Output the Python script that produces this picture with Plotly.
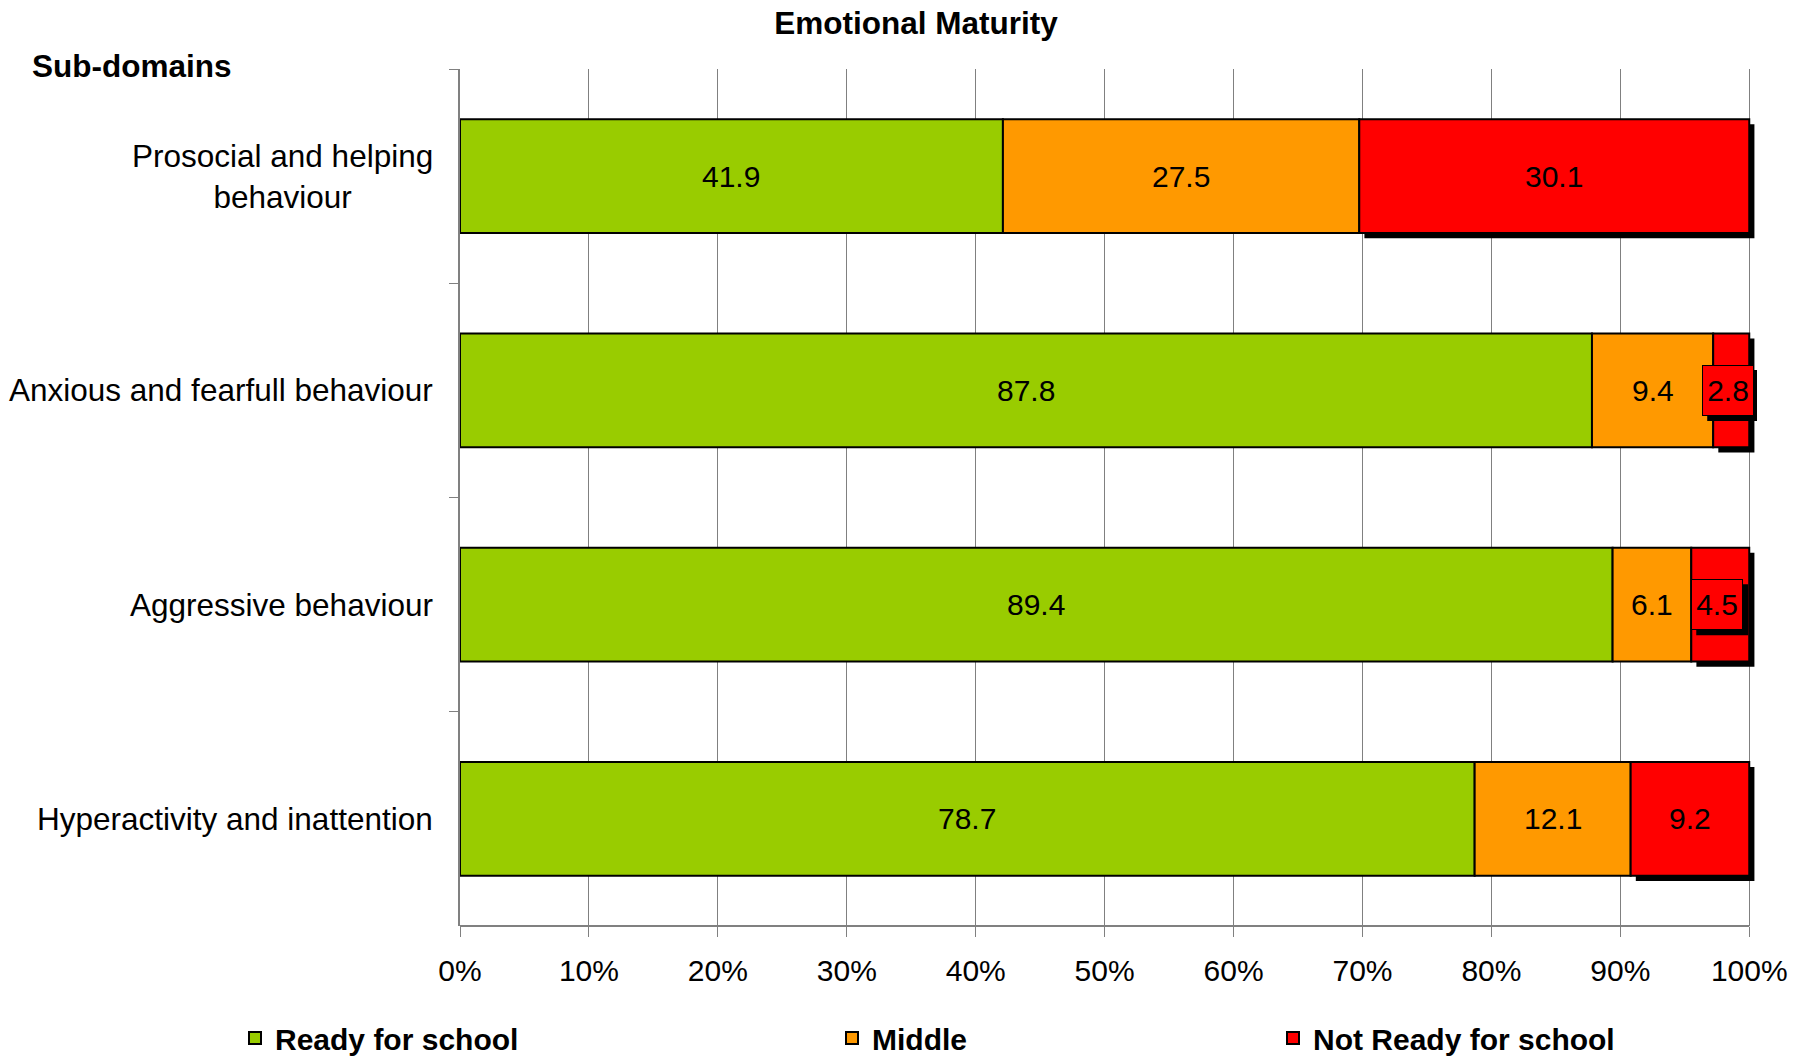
import plotly.graph_objects as go

# --- data -------------------------------------------------------------
categories = [
    "Prosocial and helping behaviour",
    "Anxious and fearfull behaviour",
    "Aggressive behaviour",
    "Hyperactivity and inattention",
]
category_labels = [
    "Prosocial and helping<br>behaviour",
    "Anxious and fearfull behaviour",
    "Aggressive behaviour",
    "Hyperactivity and inattention",
]
ready = [41.9, 87.8, 89.4, 78.7]
middle = [27.5, 9.4, 6.1, 12.1]
not_ready = [30.1, 2.8, 4.5, 9.2]

series_names = ["Ready for school", "Middle", "Not Ready for school"]
series_colors = ["#99CC00", "#FF9900", "#FF0000"]
x_tick_values = [0, 10, 20, 30, 40, 50, 60, 70, 80, 90, 100]
x_tick_labels = [f"{v}%" for v in x_tick_values]

# --- styling ----------------------------------------------------------
FONT = "Liberation Sans, Arial, sans-serif"
FS = 30
FS_BIG = 31.5
BAR_W = 0.532
SHADOW_DX = 0.4      # shadow offset along x (percent units)
SHADOW_DY = 0.024    # shadow offset along the category axis
SMALL_LABEL = 5.0    # segments narrower than this get a boxed label
BOX_W, BOX_H = 52, 51

# page geometry (px)
W, H = 1815, 1057
M_L, M_R, M_T, M_B = 460, 58, 69, 131
PLOT_W = W - M_L - M_R
PLOT_H = H - M_T - M_B

# Normalise each row to 100 % and compute segment starts
series = [ready, middle, not_ready]
totals = [sum(vals) for vals in zip(*series)]
pct = [[v / t * 100 for v, t in zip(s, totals)] for s in series]
starts = []
run = [0.0] * len(categories)
for p in pct:
    starts.append(list(run))
    run = [r + v for r, v in zip(run, p)]

fig = go.Figure()

legend_ids = ["legend", "legend2", "legend3"]
for i, (name, color) in enumerate(zip(series_names, series_colors)):
    if i == 2:
        # drop shadow under the red segments
        fig.add_trace(go.Bar(
            y=categories, x=pct[i],
            base=[s + SHADOW_DX for s in starts[i]],
            orientation="h", width=BAR_W, offset=-BAR_W / 2 + SHADOW_DY,
            marker=dict(color="black", line=dict(width=0)),
            showlegend=False, hoverinfo="skip",
        ))
    fig.add_trace(go.Bar(
        y=categories, x=pct[i], base=starts[i],
        orientation="h", width=BAR_W, offset=-BAR_W / 2,
        name=name, legend=legend_ids[i],
        marker=dict(color=color, line=dict(color="black", width=2)),
    ))

# value labels
annotations = []
shapes = []
for i in range(3):
    for j, cat in enumerate(categories):
        val = series[i][j]
        xc = starts[i][j] + pct[i][j] / 2
        if val < SMALL_LABEL:
            # shadow behind the boxed label
            shapes.append(dict(
                type="rect", xref="x", yref="y",
                xsizemode="pixel", ysizemode="pixel",
                xanchor=xc, yanchor=j,
                x0=-BOX_W / 2 + 2, x1=BOX_W / 2 + 2,
                y0=-BOX_H / 2 - 5, y1=BOX_H / 2 - 5,
                fillcolor="black", line=dict(width=0), layer="above",
            ))
            annotations.append(dict(
                x=xc, y=cat, xref="x", yref="y", text=f"{val:.1f}",
                showarrow=False, width=BOX_W - 10, height=BOX_H - 10,
                xshift=-3,
                font=dict(family=FONT, size=FS, color="black"),
                bgcolor=series_colors[i], bordercolor="black", borderwidth=1, borderpad=4,
            ))
        else:
            annotations.append(dict(
                x=xc, y=cat, xref="x", yref="y", text=f"{val:.1f}",
                showarrow=False, font=dict(family=FONT, size=FS, color="black"),
            ))

# category labels
for cat, lab in zip(categories, category_labels):
    annotations.append(dict(
        x=0, y=cat, xref="paper", yref="y", text=lab, showarrow=False,
        xanchor="right", align="center", xshift=-25,
        font=dict(family=FONT, size=FS_BIG, color="black"),
    ))

annotations.append(dict(
    x=(30 - M_L) / PLOT_W, y=(H - M_B - 66) / PLOT_H, xref="paper", yref="paper",
    text="<b>Sub-domains</b>", showarrow=False, xanchor="left", yanchor="middle",
    font=dict(family=FONT, size=FS_BIG, color="black"),
))

# bottom axis line spanning 0-100 %
shapes.append(dict(
    type="line", xref="x", yref="paper", x0=0, x1=100, y0=0, y1=0,
    line=dict(color="#808080", width=2), layer="above",
))

fig.update_layout(
    width=W, height=H,
    margin=dict(l=M_L, r=M_R, t=M_T, b=M_B),
    paper_bgcolor="white", plot_bgcolor="white",
    barmode="overlay",
    font=dict(family=FONT, size=FS, color="black"),
    title=dict(
        text="<b>Emotional Maturity</b>", xref="container", yref="container",
        x=916 / W, y=1 - 23 / H, xanchor="center", yanchor="middle",
        font=dict(family=FONT, size=FS_BIG, color="black"),
    ),
    xaxis=dict(
        range=[0, 100.6], tickvals=x_tick_values, ticktext=x_tick_labels,
        showgrid=True, gridcolor="#808080", gridwidth=1,
        showline=False, zeroline=False,
        ticks="outside", ticklen=10, tickwidth=1, tickcolor="#808080",
        tickfont=dict(family=FONT, size=FS, color="black"),
        ticklabelstandoff=8,
    ),
    yaxis=dict(
        type="category", categoryorder="array", categoryarray=categories,
        range=[len(categories) - 0.5, -0.5],
        showticklabels=False, showgrid=False, zeroline=False,
        showline=True, linecolor="#808080", linewidth=2,
        ticks="outside", tickson="boundaries", ticklen=9, tickwidth=1,
        tickcolor="#808080",
    ),
    shapes=shapes,
    annotations=annotations,
)

# one legend per series, spread across the bottom
legend_left = [235, 832, 1273]
for lid, lx in zip(legend_ids, legend_left):
    fig.update_layout({lid: dict(
        orientation="h", xref="container", yref="container",
        x=lx / W, y=1 - 1038 / H, xanchor="left", yanchor="middle",
        font=dict(family=FONT, size=FS, color="black", weight="bold"),
        bgcolor="rgba(0,0,0,0)", borderwidth=0,
    )})

fig.write_html("out.html")
